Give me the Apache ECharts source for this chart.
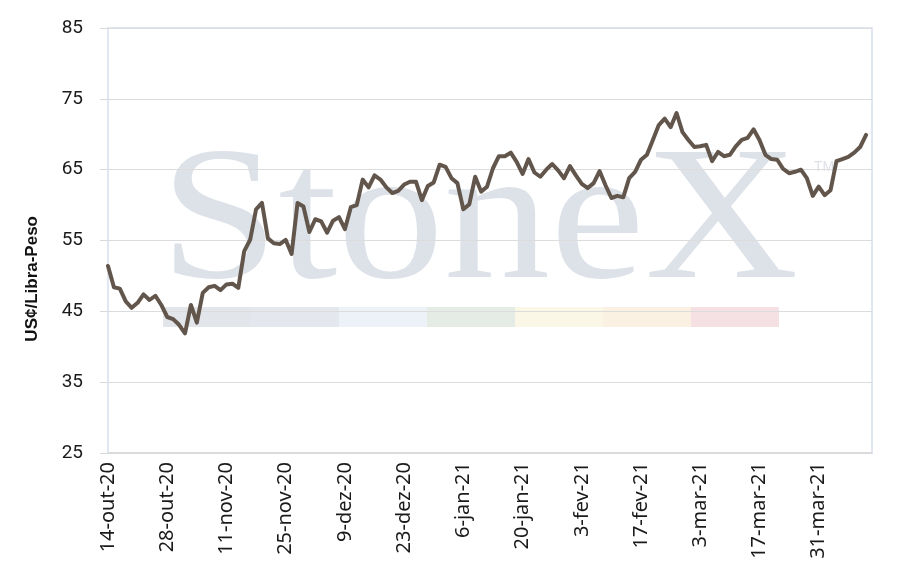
<!DOCTYPE html>
<html>
<head>
<meta charset="utf-8">
<script src="https://cdn.jsdelivr.net/npm/echarts@6/dist/echarts.min.js"></script>
<style>html,body{margin:0;padding:0;background:#fff}#c{width:915px;height:576px}</style>
</head>
<body>
<div id="c"></div>
<script>
// Trading-day dates (weekdays) from 14-out-20
const monthNames = ['jan','fev','mar','abr','mai','jun','jul','ago','set','out','nov','dez'];
const startDate = [2020, 9, 14];
const pointCount = 129;

const values = [
  51.4, 48.4, 48.2, 46.4, 45.5, 46.2, 47.4, 46.6, 47.2, 45.9,
  44.2, 43.9, 43.1, 41.9, 45.9, 43.4, 47.6, 48.4, 48.6, 48.0,
  48.8, 48.9, 48.3, 53.5, 55.1, 59.4, 60.3, 55.3, 54.6, 54.5,
  55.1, 53.1, 60.3, 59.8, 56.2, 58.0, 57.7, 56.1, 57.8, 58.3,
  56.6, 59.7, 60.0, 63.6, 62.5, 64.2, 63.6, 62.5, 61.7, 62.0,
  62.9, 63.3, 63.3, 60.7, 62.7, 63.2, 65.7, 65.4, 63.8, 63.1,
  59.4, 60.1, 64.0, 61.9, 62.6, 65.2, 66.9, 66.9, 67.4, 66.1,
  64.4, 66.5, 64.6, 64.0, 65.0, 65.8, 64.9, 63.8, 65.5, 64.2,
  63.0, 62.4, 63.1, 64.8, 62.8, 61.0, 61.3, 61.1, 63.8, 64.7,
  66.4, 67.1, 69.2, 71.3, 72.2, 71.0, 73.0, 70.3, 69.2, 68.2,
  68.3, 68.5, 66.2, 67.5, 66.9, 67.1, 68.3, 69.2, 69.5, 70.7,
  69.2, 67.1, 66.5, 66.4, 65.1, 64.5, 64.7, 65.0, 63.8, 61.3,
  62.6, 61.4, 62.1, 66.2, 66.5, 66.8, 67.4, 68.2, 69.9
];

const yTicks = [25, 35, 45, 55, 65, 75, 85];
const bandColors = ['#e2e5ea', '#e4e7ed', '#edf2f9', '#e5ece5', '#fbf7e7', '#fbf1e2', '#f5e1e3'];

function buildDates(n) {
  const out = [];
  const d = new Date(startDate[0], startDate[1], startDate[2]);
  while (out.length < n) {
    const wd = d.getDay();
    if (wd !== 0 && wd !== 6) {
      out.push(d.getDate() + '-' + monthNames[d.getMonth()] + '-' + String(d.getFullYear()).slice(2));
    }
    d.setDate(d.getDate() + 1);
  }
  return out;
}
const categories = buildDates(pointCount + 1);
const seriesData = values.concat(['-']);

const chart = echarts.init(document.getElementById('c'));
const bandEls = bandColors.map((c, i) => ({
  type: 'rect', z: 0, silent: true,
  shape: { x: 163 + i * 88, y: 307, width: 88, height: 20 },
  style: { fill: c }
}));

chart.setOption({
  animation: false,
  grid: { left: 108, right: 43, top: 28, bottom: 123, show: true, borderColor: '#d6e0ee', borderWidth: 1.5, backgroundColor: 'transparent' },
  graphic: [
    { type: 'text', z: 0, silent: true, left: 160, top: 132,
      style: { text: 'StoneX', font: '190px "Liberation Serif"', fill: '#dde2e9' }, scaleX: 1.12 },
    { type: 'text', z: 0, silent: true, left: 814, top: 160,
      style: { text: 'TM', font: '14px "Liberation Sans"', fill: '#dde2e9' } },
    ...bandEls,
    { type: 'text', left: 24, top: 216, rotation: Math.PI / 2,
      style: { text: 'US¢/Libra-Peso', font: 'bold 17px "Liberation Sans"', fill: '#111' } }
  ],
  xAxis: {
    type: 'category',
    data: categories,
    boundaryGap: false,
    axisLine: { show: true, lineStyle: { color: '#d9d9d9', width: 1.5 } },
    axisTick: { show: false },
    axisLabel: {
      rotate: 90, margin: 9, interval: 0,
      formatter: (v, i) => (i % 10 === 0 && i < values.length) ? v : '',
      fontFamily: 'Noto Sans', fontSize: 20, color: '#1a1a1a'
    },
    splitLine: { show: false }
  },
  yAxis: {
    type: 'value', min: yTicks[0], max: yTicks[yTicks.length - 1], interval: 10,
    axisLine: { show: false },
    axisTick: { show: true, length: 8, lineStyle: { color: '#d9d9d9' } },
    axisLabel: { margin: 25, fontFamily: 'Roboto', fontSize: 19, color: '#1a1a1a' },
    splitLine: { lineStyle: { color: '#dcdcdc', width: 1.2 } }
  },
  series: [{
    type: 'line', data: seriesData, showSymbol: false, z: 5,
    lineStyle: { color: '#62564c', width: 4, join: 'round', cap: 'round' }
  }]
});
</script>
</body>
</html>
